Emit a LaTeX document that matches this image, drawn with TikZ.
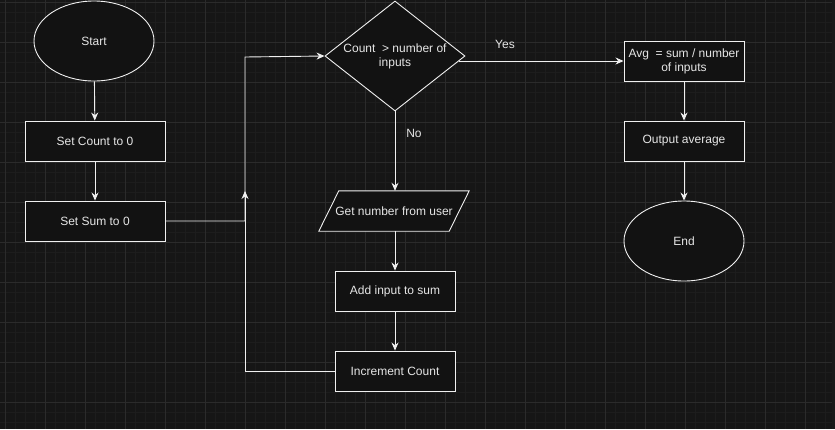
\documentclass[tikz,border=0pt]{standalone}
\usepackage{fontspec}
\setmainfont{Liberation Sans}
\usetikzlibrary{shapes.geometric,arrows.meta}

\definecolor{canvas}{HTML}{161616}
\definecolor{minorline}{HTML}{1D1D1D}
\definecolor{majorline}{HTML}{2B2B2B}
\definecolor{boxfill}{HTML}{121212}
\definecolor{inkline}{HTML}{F0F0F0}
\definecolor{inktext}{HTML}{E6E6E6}

\begin{document}
\begin{tikzpicture}[x=1pt,y=-1pt,>={Stealth[length=8pt,width=7pt]},
    every node/.style={font=\fontsize{12}{14}\selectfont,text=inktext},
    block/.style={draw=inkline,fill=boxfill,line width=0.9pt,inner sep=0pt},
    process/.style={block,rectangle,minimum width=#1,minimum height=40pt},
    process/.default=140pt,
    terminal/.style={block,ellipse,minimum width=120pt,minimum height=80pt},
    decision/.style={block,diamond,minimum width=140pt,minimum height=110pt},
    inout/.style={rectangle,inner sep=0pt,minimum width=130pt,minimum height=40pt},
    flow/.style={draw=inkline,line width=0.9pt}]

    % background and grid
    \useasboundingbox (0,0) rectangle (835,429);
    \fill[canvas] (0,0) rectangle (835,429);
    \foreach \gx in {5,15,...,825} \draw[minorline,line width=0.6pt] (\gx,0) -- (\gx,429);
    \foreach \gy in {2,12,...,422} \draw[minorline,line width=0.6pt] (0,\gy) -- (832,\gy);
    \foreach \gx in {5,45,...,805} \draw[majorline,line width=0.8pt] (\gx,0) -- (\gx,429);
    \foreach \gy in {2,42,...,402} \draw[majorline,line width=0.8pt] (0,\gy) -- (832,\gy);
    \fill[black!90] (832,0) rectangle (835,429);

    % left column
    \node[terminal] (start) at (94,41) {Start};
    \node[process] (count) at (95,141) {Set Count to 0};
    \node[process] (sum) at (95,221) {Set Sum to 0};

    % loop test
    \node[decision] (test) at (395,56) {};
    \node[align=center] (testtxt) at (395,56) {Count\ \ > number of\\inputs};

    % loop body (slanted input box)
    \node[inout] (getnum) at (394,211) {};
    \filldraw[block] ([xshift=10pt]getnum.north west) -- ([xshift=10pt]getnum.north east)
        -- ([xshift=-10pt]getnum.south east) -- ([xshift=-10pt]getnum.south west) -- cycle;
    \node (getnumtxt) at (getnum) {Get number from user};
    \node[process=120pt] (add) at (395,291) {Add input to sum};
    \node[process=120pt] (incr) at (395,371) {Increment Count};

    % right column
    \node[process=120pt,align=center] (avg) at (684,61) {Avg\ \ = sum / number\\of inputs};
    \node[process=120pt] (out) at (684,141) {Output average};
    \node[terminal] (stop) at (684,241) {End};

    % connectors
    \coordinate (upturn) at (245,57);
    \coordinate (rejoin) at (245,191);
    \draw[flow,->] (start) -- (count);
    \draw[flow,->] (count) -- (sum);
    \draw[flow,->] (sum.east) -| (upturn) -- (test.west);
    \draw[flow,->] (test.south) -- (test.south |- getnum.north);
    \draw[flow,->] (add.north |- getnum.south) -- (add);
    \draw[flow,->] (add) -- (incr);
    \draw[flow,->] (incr.west) -| (rejoin);
    \draw[flow,->] ([xshift=-6pt,yshift=-5pt]test.east) -- (avg.west);
    \draw[flow,->] (avg) -- (out);
    \draw[flow,->] (out) -- (stop);

    % branch labels
    \node (yes) at (505,44) {Yes};
    \node (no) at (414,133) {No};
\end{tikzpicture}
\end{document}
